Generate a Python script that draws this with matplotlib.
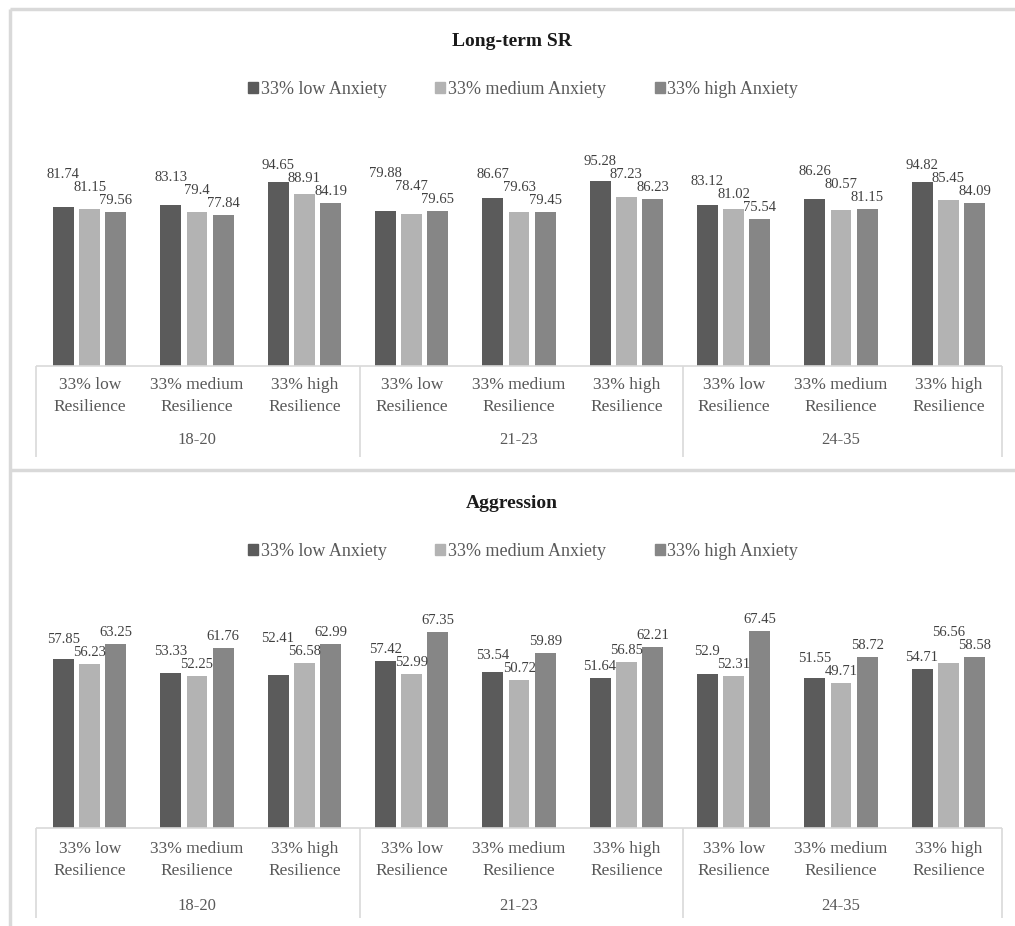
import matplotlib
matplotlib.use("Agg")
import matplotlib.pyplot as plt
from matplotlib.lines import Line2D
import numpy as np

plt.rcParams['font.family'] = ['Liberation Serif', 'DejaVu Serif']

groups = ["18-20", "21-23", "24-35"]
categories = ["33% low\nResilience", "33% medium\nResilience", "33% high\nResilience"]
series = ["33% low Anxiety", "33% medium Anxiety", "33% high Anxiety"]
colors = ["#5b5b5b", "#b3b3b3", "#868686"]

# Long-term SR, order: groups x categories, values per anxiety series
sr_low = [81.74, 83.13, 94.65, 79.88, 86.67, 95.28, 83.12, 86.26, 94.82]
sr_med = [81.15, 79.4, 88.91, 78.47, 79.63, 87.23, 81.02, 80.57, 85.45]
sr_high = [79.56, 77.84, 84.19, 79.65, 79.45, 86.23, 75.54, 81.15, 84.09]

ag_low = [57.85, 53.33, 52.41, 57.42, 53.54, 51.64, 52.9, 51.55, 54.71]
ag_med = [56.23, 52.25, 56.58, 52.99, 50.72, 56.85, 52.31, 49.71, 56.56]
ag_high = [63.25, 61.76, 62.99, 67.35, 59.89, 62.21, 67.45, 58.72, 58.58]

W, H = 1015, 926
fig = plt.figure(figsize=(W / 100, H / 100), dpi=100)

def fx(x):
    return x / W

def fy(y):
    return 1 - y / H

def fline(x0, y0, x1, y1, lw=1.0, color="#d9d9d9"):
    fig.add_artist(Line2D([fx(x0), fx(x1)], [fy(y0), fy(y1)], transform=fig.transFigure,
                          lw=lw, color=color, solid_capstyle="butt"))

# panel borders
fline(10, 9, 1015, 9, lw=2.5)
fline(10, 9, 10, 926, lw=2.5)
fline(10, 470, 1015, 470, lw=2.5)

LEFT, RIGHT = 36, 1002
gray_text = "#595959"

def panel(title, data, base_y, top_y, ymax, title_y, legend_y, cat_y, grp_y, line_bottom):
    ax = fig.add_axes([fx(LEFT), fy(base_y), fx(RIGHT) - fx(LEFT), (base_y - top_y) / H])
    n = len(data[0])
    x = np.arange(n)
    off = 0.245
    width = 0.195
    px_per_unit = (base_y - top_y) / ymax
    pad = 5 / px_per_unit
    h = 13 / px_per_unit
    for i, (vals, c, lab) in enumerate(zip(data, colors, series)):
        ax.bar(x + (i - 1) * off, vals, width=width, color=c, label=lab)
    for k in range(n):
        ys = [None, None, None]
        for i in (2, 1, 0):
            v = data[i][k]
            y = v + pad
            if i < 2 and abs(y - ys[i + 1]) < h:
                y = ys[i + 1] + h
            ys[i] = y
            ax.text(k + (i - 1) * off, y, f"{v:g}", ha="center", va="bottom",
                    fontsize=10.5, color="#404040", clip_on=False)
    ax.set_xlim(-0.5, n - 0.5)
    ax.set_ylim(0, ymax)
    ax.axis("off")
    # baseline and separators
    fline(LEFT, base_y, RIGHT, base_y, lw=1.2)
    for gx in [LEFT, 360, 683, RIGHT]:
        fline(gx, base_y, gx, line_bottom, lw=1.2)
    # category labels
    for k in range(n):
        xc = LEFT + (k + 0.5) * (RIGHT - LEFT) / n
        fig.text(fx(xc), fy(cat_y), categories[k % 3], ha="center", va="center",
                 fontsize=12.5, color=gray_text, linespacing=1.5)
    for g, name in enumerate(groups):
        xc = LEFT + (g * 3 + 1.5) * (RIGHT - LEFT) / n
        fig.text(fx(xc), fy(grp_y), name, ha="center", va="center", fontsize=12, color=gray_text)
    fig.text(fx(512), fy(title_y), title, ha="center", va="center", fontsize=14,
             fontweight="bold", color="#1a1a1a")
    handles = [plt.Rectangle((0, 0), 1, 1, color=c) for c in colors]
    fig.legend(handles, series, loc="center", bbox_to_anchor=(fx(523), fy(legend_y)),
               ncol=3, frameon=False, fontsize=13, handlelength=0.55, handleheight=0.55,
               handletextpad=0.15, columnspacing=2.7, labelcolor=gray_text)
    return ax

panel("Long-term SR", [sr_low, sr_med, sr_high], 366, 172, 100, 42, 89, 396, 440, 457)
panel("Aggression", [ag_low, ag_med, ag_high], 828, 624, 70, 503, 551, 860, 906, 918)

fig.savefig("out.png", dpi=100, facecolor="white")
